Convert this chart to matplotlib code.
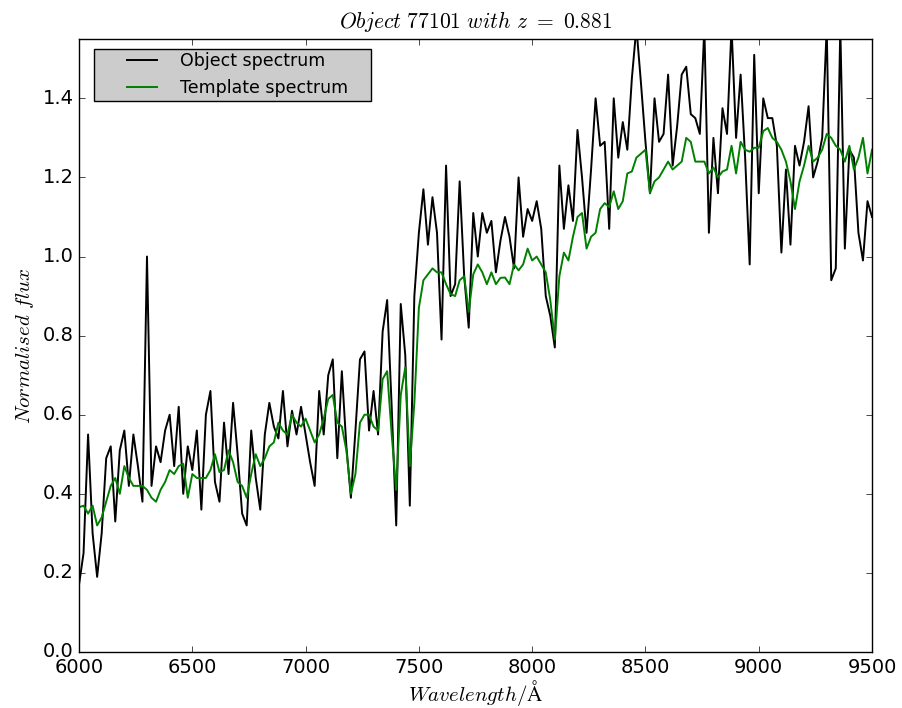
import numpy as np
import matplotlib
matplotlib.use("Agg")
import matplotlib.pyplot as plt
from matplotlib.patches import Rectangle

plt.style.use("classic")
plt.rcParams["mathtext.fontset"] = "cm"

# wavelength grid, 20 A steps
wavelength = np.arange(6000, 9501, 20)

# object spectrum
object_flux = [
    0.17, 0.25, 0.55, 0.30, 0.19, 0.30, 0.49, 0.52, 0.33, 0.51,
    0.56, 0.42, 0.55, 0.47, 0.38, 1.00, 0.42, 0.52, 0.48, 0.56,
    0.60, 0.47, 0.62, 0.40, 0.52, 0.46, 0.56, 0.36, 0.60, 0.66,
    0.43, 0.38, 0.58, 0.45, 0.63, 0.50, 0.35, 0.32, 0.56, 0.44,
    0.36, 0.55, 0.63, 0.57, 0.54, 0.66, 0.52, 0.61, 0.55, 0.62,
    0.55, 0.48, 0.42, 0.66, 0.55, 0.70, 0.74, 0.49, 0.71, 0.52,
    0.39, 0.56, 0.74, 0.76, 0.56, 0.66, 0.55, 0.81, 0.89, 0.62,
    0.32, 0.88, 0.75, 0.37, 0.90, 1.06, 1.17, 1.03, 1.15, 1.06,
    0.79, 1.23, 0.90, 0.93, 1.19, 0.95, 0.82, 1.11, 1.00, 1.11,
    1.06, 1.09, 0.96, 1.04, 1.10, 1.05, 0.97, 1.20, 1.05, 1.12,
    1.09, 1.14, 1.07, 0.90, 0.85, 0.77, 1.23, 1.07, 1.18, 1.09,
    1.32, 1.20, 1.06, 1.22, 1.40, 1.28, 1.29, 1.07, 1.40, 1.25,
    1.34, 1.27, 1.45, 1.58, 1.44, 1.29, 1.16, 1.40, 1.29, 1.31,
    1.46, 1.23, 1.33, 1.46, 1.48, 1.36, 1.35, 1.31, 1.58, 1.06,
    1.30, 1.16, 1.375, 1.31, 1.58, 1.30, 1.46, 1.25, 0.98, 1.51,
    1.16, 1.40, 1.35, 1.35, 1.28, 1.01, 1.22, 1.03, 1.28, 1.23,
    1.29, 1.38, 1.20, 1.24, 1.30, 1.58, 0.94, 0.97, 1.58, 1.02,
    1.27, 1.25, 1.06, 0.99, 1.14, 1.10,
]

# template spectrum
template_flux = [
    0.366, 0.37, 0.35, 0.37, 0.32, 0.34, 0.38, 0.42, 0.44, 0.40,
    0.47, 0.44, 0.42, 0.42, 0.42, 0.41, 0.39, 0.38, 0.41, 0.43,
    0.46, 0.45, 0.47, 0.476, 0.39, 0.45, 0.44, 0.44, 0.44, 0.46,
    0.50, 0.455, 0.46, 0.51, 0.48, 0.43, 0.42, 0.39, 0.45, 0.50,
    0.47, 0.49, 0.52, 0.53, 0.58, 0.56, 0.55, 0.60, 0.58, 0.57,
    0.59, 0.56, 0.53, 0.55, 0.59, 0.64, 0.65, 0.58, 0.57, 0.51,
    0.40, 0.45, 0.58, 0.60, 0.60, 0.57, 0.56, 0.69, 0.71, 0.55,
    0.41, 0.65, 0.72, 0.47, 0.63, 0.87, 0.94, 0.955, 0.97, 0.96,
    0.96, 0.93, 0.905, 0.90, 0.94, 0.95, 0.86, 0.955, 0.98, 0.96,
    0.93, 0.96, 0.93, 0.946, 0.947, 0.93, 0.98, 0.965, 0.98, 1.02,
    0.99, 1.00, 0.98, 0.96, 0.89, 0.79, 0.95, 1.01, 0.99, 1.05,
    1.10, 1.11, 1.02, 1.05, 1.06, 1.12, 1.135, 1.125, 1.165, 1.12,
    1.14, 1.21, 1.215, 1.25, 1.26, 1.27, 1.16, 1.19, 1.20, 1.22,
    1.24, 1.22, 1.23, 1.24, 1.30, 1.29, 1.24, 1.24, 1.24, 1.21,
    1.225, 1.20, 1.215, 1.22, 1.28, 1.21, 1.29, 1.27, 1.265, 1.275,
    1.275, 1.317, 1.325, 1.30, 1.29, 1.27, 1.24, 1.19, 1.12, 1.19,
    1.23, 1.28, 1.24, 1.25, 1.27, 1.31, 1.30, 1.28, 1.27, 1.24,
    1.28, 1.22, 1.25, 1.30, 1.21, 1.27,
]

fig = plt.figure(figsize=(9.03, 7.08), dpi=100, facecolor="white")
ax = fig.add_axes([0.0875, 0.0791, 0.8782, 0.8658])

ax.plot(wavelength, object_flux, color="black", lw=1.4, label="Object spectrum")
ax.plot(wavelength, template_flux, color="green", lw=1.4, label="Template spectrum")

ax.set_xlim(6000, 9500)
ax.set_ylim(0, 1.55)
ax.set_xticks(np.arange(6000, 9501, 500))
ax.set_yticks(np.arange(0, 1.41, 0.2))
ax.tick_params(labelsize=14)

ax.set_title(r"$Object\ 77101\ with\ z\ =\ 0.881$", fontsize=15.5, pad=8)
ax.set_xlabel(r"$Wavelength/\mathrm{\AA}$", fontsize=15, labelpad=1)
ax.set_ylabel(r"$Normalised\ flux$", fontsize=15)

# old-style legend box: wide side padding, tight top/bottom
box = Rectangle((0.019, 0.899), 0.349, 0.085, transform=ax.transAxes,
                facecolor="0.8", edgecolor="black", lw=1, zorder=4)
ax.add_patch(box)
leg = ax.legend(loc="upper left", bbox_to_anchor=(0.054, 0.978), fontsize=12.5,
                frameon=False, borderpad=0, borderaxespad=0,
                handlelength=2.35, handletextpad=1.0, labelspacing=0.5)
leg.set_zorder(5)

fig.savefig("out.png", dpi=100, facecolor="white")
